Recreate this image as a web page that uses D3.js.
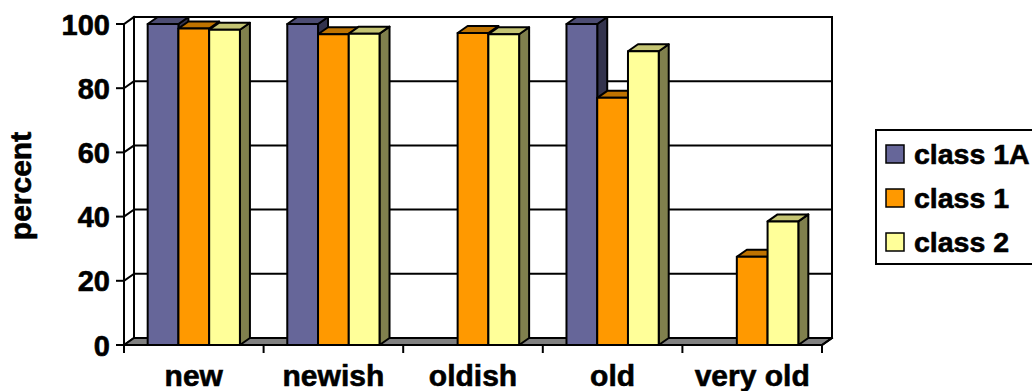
<!DOCTYPE html>
<html>
<head>
<meta charset="utf-8">
<script src="https://cdn.jsdelivr.net/npm/d3@7"></script>
<style>
  html, body { margin: 0; padding: 0; background: #fff; }
  svg { display: block; }
  text { font-family: "Liberation Sans", Arial, sans-serif; font-weight: bold; fill: #000; stroke: #000; stroke-width: 0.6px; }
</style>
</head>
<body>
<svg id="chart" width="1032" height="391"></svg>
<script>
// Age categories along the x axis
const categories = ["new", "newish", "oldish", "old", "very old"];
// Series names, in legend order
const series = ["class 1A", "class 1", "class 2"];
// Percent values per category (null = no bar)
const class1A = [100, 100, null, 100, null];
const class1 = [98.6, 96.8, 97.2, 77, 27.5];
const class2 = [98.2, 97, 96.8, 91.5, 38.5];
// Y axis ticks
const yTicks = [0, 20, 40, 60, 80, 100];
const yLabel = "percent";

const values = [class1A, class1, class2];

// Face colours: front, top, side
const palette = [
  { front: "#666699", top: "#4d4d73", side: "#33334d" },
  { front: "#ff9900", top: "#bf7300", side: "#804d00" },
  { front: "#ffff99", top: "#c4c473", side: "#80804d" }
];

const svg = d3.select("#chart");

// Front plane geometry and the 3D depth offset
const plotLeft = 124, plotRight = 822, plotBottom = 345, plotTop = 24;
const dx = 10, dy = -7;

const y = d3.scaleLinear().domain([0, 100]).range([plotBottom, plotTop]);
const x0 = d3.scaleBand().domain(categories).range([plotLeft, plotRight]).padding(0);
const x1 = d3.scaleBand().domain(series).range([0, x0.bandwidth()])
  .paddingInner(0).paddingOuter(0.77);

const line = (ax, ay, bx, by, g, w = 2) =>
  g.append("line").attr("x1", ax).attr("y1", ay).attr("x2", bx).attr("y2", by)
    .attr("stroke", "#000").attr("stroke-width", w).attr("stroke-linecap", "square");

// Back wall with gridlines
const wall = svg.append("g");
yTicks.forEach(t => {
  if (t === 0) return;
  line(plotLeft + dx, y(t) + dy, plotRight + dx, y(t) + dy, wall);
});
// Back wall verticals
line(plotLeft + dx, y(100) + dy, plotLeft + dx, y(0) + dy, wall);
line(plotRight + dx, y(100) + dy, plotRight + dx, y(0) + dy, wall);
// Left wall diagonals at each tick
yTicks.forEach(t => {
  line(plotLeft, y(t), plotLeft + dx, y(t) + dy, wall);
});

// Floor
svg.append("polygon")
  .attr("points", [[plotLeft, plotBottom], [plotRight, plotBottom], [plotRight + dx, plotBottom + dy], [plotLeft + dx, plotBottom + dy]].join(" "))
  .attr("fill", "#808080").attr("stroke", "#000").attr("stroke-width", 2).attr("stroke-linejoin", "round");

// Bars, drawn left to right so later fronts cover earlier side faces
const bars = svg.append("g");
categories.forEach((cat, i) => {
  series.forEach((s, j) => {
    const v = values[j][i];
    if (v == null) return;
    const bx = x0(cat) + x1(s);
    const w = x1.bandwidth();
    const yt = y(v), yb = y(0);
    const c = palette[j];
    const g = bars.append("g")
      .attr("stroke", "#000").attr("stroke-width", 2).attr("stroke-linejoin", "round");
    g.append("polygon")
      .attr("points", [[bx + w, yt], [bx + w + dx, yt + dy], [bx + w + dx, yb + dy], [bx + w, yb]].join(" "))
      .attr("fill", c.side);
    g.append("polygon")
      .attr("points", [[bx, yt], [bx + dx, yt + dy], [bx + w + dx, yt + dy], [bx + w, yt]].join(" "))
      .attr("fill", c.top);
    g.append("rect")
      .attr("x", bx).attr("y", yt).attr("width", w).attr("height", yb - yt)
      .attr("fill", c.front);
  });
});

// Front axes
const axes = svg.append("g");
line(plotLeft, y(100), plotLeft, plotBottom + 7, axes);
line(plotLeft, plotBottom, plotRight, plotBottom, axes);
line(plotRight, plotBottom, plotRight + dx, plotBottom + dy, axes);
yTicks.forEach(t => line(plotLeft - 7, y(t), plotLeft, y(t), axes));
const bounds = categories.map(c => x0(c)).concat([plotRight]);
bounds.forEach(b => line(b, plotBottom, b, plotBottom + 7, axes));

// Y tick labels
svg.append("g").selectAll("text").data(yTicks).join("text")
  .attr("x", 110).attr("y", d => y(d) + 10.5)
  .attr("text-anchor", "end").attr("font-size", 29)
  .text(d => d);

// Category labels
svg.append("g").selectAll("text").data(categories).join("text")
  .attr("x", d => x0(d) + x0.bandwidth() / 2).attr("y", 386)
  .attr("text-anchor", "middle").attr("font-size", 30)
  .text(d => d);

// Y axis title
svg.append("text")
  .attr("transform", "translate(31,186) rotate(-90)")
  .attr("text-anchor", "middle").attr("font-size", 30)
  .text(yLabel);

// Legend
const legend = svg.append("g");
legend.append("rect")
  .attr("x", 876).attr("y", 130).attr("width", 170).attr("height", 134)
  .attr("fill", "#fff").attr("stroke", "#000").attr("stroke-width", 2);
series.forEach((s, j) => {
  const ry = 145 + j * 44;
  legend.append("rect")
    .attr("x", 886).attr("y", ry).attr("width", 18).attr("height", 18)
    .attr("fill", palette[j].front).attr("stroke", "#000").attr("stroke-width", 1.5);
  legend.append("text")
    .attr("x", 914).attr("y", ry + 19)
    .attr("font-size", 28.5)
    .text(s);
});
</script>
</body>
</html>
